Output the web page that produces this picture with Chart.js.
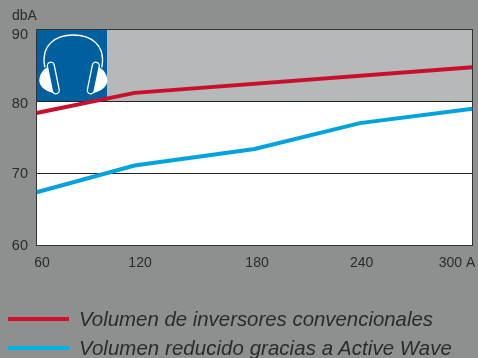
<!DOCTYPE html>
<html lang="es">
<head>
<meta charset="utf-8">
<title>Volumen dbA</title>
<script src="https://cdn.jsdelivr.net/npm/chart.js@4/dist/chart.umd.min.js"></script>
<style>
  html, body { margin: 0; padding: 0; background: #8e908f; }
  #wrap { position: relative; width: 478px; height: 358px; overflow: hidden; }
  #volumeChart { position: absolute; left: 0; top: 0; }
  .legend-row { position: absolute; left: 8px; height: 24px; display: flex; align-items: center; }
  .legend-row i { display: block; width: 61px; height: 4px; margin-right: 10px; }
  .legend-row span { font: italic 20.4px "Liberation Sans", Arial, sans-serif; color: #2b2b2b; white-space: nowrap; }
</style>
</head>
<body>
<div id="wrap">
  <canvas id="volumeChart" width="478" height="358"></canvas>
  <div class="legend-row" style="top:307px"><i style="background:#d2102c"></i><span id="nameA"></span></div>
  <div class="legend-row" style="top:336px"><i style="background:#00b2e6"></i><span id="nameB" style="letter-spacing:.08px"></span></div>
</div>
<script>
// current (A) against noise level (dbA)
const conventionalPts = [60, 114, 300];
const conventionalVals = [78.4, 81.2, 84.75];
const reducedPts = [60, 114, 180, 238, 300];
const reducedVals = [67.4, 71.1, 73.4, 77.0, 79.0];

const xTickLabels = ['60', '120', '180', '240', '300 A'];
const xTickSpots = [63, 117, 181.4, 239, 291.5];
const yTickLabels = ['60', '70', '80', '90'];
const yTickSpots = [60, 70, 79.6, 89.3];
const conventionalName = 'Volumen de inversores convencionales';
const reducedName = 'Volumen reducido gracias a Active Wave';

document.getElementById('nameA').textContent = conventionalName;
document.getElementById('nameB').textContent = reducedName;

const toSeries = (xs, ys) => xs.map((x, i) => ({ x, y: ys[i] }));

// grey band above 80 dbA, blue square with the headphones in its corner
const backdrop = {
  id: 'backdrop',
  beforeDatasetsDraw(chart) {
    const { ctx, chartArea: a, scales: { y } } = chart;
    const y80 = y.getPixelForValue(80);
    ctx.save();
    ctx.fillStyle = '#ffffff';
    ctx.fillRect(a.left, a.top, a.width, a.height);
    ctx.fillStyle = '#b5b9ba';
    ctx.fillRect(a.left, a.top, a.width, y80 - a.top);
    ctx.fillStyle = '#00609f';
    ctx.fillRect(a.left, a.top, 70.5, y80 - a.top);

    ctx.strokeStyle = '#222';
    ctx.lineWidth = 1;
    [70, 80].forEach(v => {
      const py = Math.floor(y.getPixelForValue(v)) + 0.5;
      ctx.beginPath();
      ctx.moveTo(a.left, py);
      ctx.lineTo(a.right, py);
      ctx.stroke();
    });

    drawHeadphones(ctx, a.left, a.top);

    ctx.strokeStyle = '#333';
    ctx.lineWidth = 1;
    ctx.strokeRect(a.left, a.top, a.width, a.height);
    ctx.restore();
  }
};

function drawHeadphones(ctx, ox, oy) {
  const cx = ox + 36.8;
  ctx.save();
  ctx.strokeStyle = '#fff';
  ctx.fillStyle = '#fff';
  ctx.lineWidth = 1.3;

  // headband
  ctx.beginPath();
  ctx.moveTo(cx - 28.5, oy + 38);
  ctx.bezierCurveTo(cx - 33, oy + 15, cx - 17, oy + 5.5, cx, oy + 5.5);
  ctx.bezierCurveTo(cx + 17, oy + 5.5, cx + 33, oy + 15, cx + 28.5, oy + 38);
  ctx.stroke();

  // ear cups, mirrored
  [-1, 1].forEach(side => {
    ctx.save();
    ctx.translate(cx, oy);
    ctx.scale(side, 1);
    ctx.beginPath();
    ctx.moveTo(26, 38);
    ctx.bezierCurveTo(31, 40, 34, 46, 34, 51);
    ctx.bezierCurveTo(34, 58, 26, 63, 17, 64);
    ctx.closePath();
    ctx.fill();

    ctx.translate(20, 48.5);
    ctx.rotate(0.2);
    ctx.fillStyle = '#00609f';
    ctx.beginPath();
    ctx.roundRect(-3.5, -16, 7, 32, 3.5);
    ctx.fill();
    ctx.stroke();
    ctx.restore();
  });
  ctx.restore();
}

new Chart(document.getElementById('volumeChart'), {
  type: 'scatter',
  data: {
    datasets: [
      {
        data: toSeries(conventionalPts, conventionalVals),
        borderColor: '#c90f2c',
        borderWidth: 4,
        showLine: true,
        pointRadius: 0
      },
      {
        data: toSeries(reducedPts, reducedVals),
        borderColor: '#00a3de',
        borderWidth: 4,
        showLine: true,
        pointRadius: 0
      }
    ]
  },
  options: {
    responsive: false,
    animation: false,
    layout: { padding: { top: 29.5, left: 0, right: 5.5, bottom: 0 } },
    plugins: { legend: { display: false }, tooltip: { enabled: false } },
    scales: {
      x: {
        type: 'linear',
        min: 60,
        max: 300,
        afterBuildTicks: axis => { axis.ticks = xTickSpots.map(value => ({ value })); },
        afterFit: axis => {
          axis.height = 112.5;
          axis.paddingLeft = 0;
          axis.paddingRight = 0;
        },
        grid: { display: false, drawTicks: false },
        border: { display: false },
        ticks: {
          color: '#2b2b2b',
          font: { family: '"Liberation Sans", Arial, sans-serif', size: 14 },
          padding: 9,
          maxRotation: 0,
          autoSkip: false,
          callback: (v, i) => xTickLabels[i]
        }
      },
      y: {
        min: 60,
        max: 90,
        afterBuildTicks: axis => { axis.ticks = yTickSpots.map(value => ({ value })); },
        afterFit: axis => {
          axis.width = 36.5;
          axis.paddingTop = 0;
          axis.paddingBottom = 0;
        },
        grid: { display: false, drawTicks: false },
        border: { display: false },
        ticks: {
          color: '#2b2b2b',
          font: { family: '"Liberation Sans", Arial, sans-serif', size: 14.5 },
          padding: 8.5,
          autoSkip: false,
          callback: (v, i) => yTickLabels[i]
        }
      }
    }
  },
  plugins: [backdrop, {
    id: 'unitLabel',
    afterDraw(chart) {
      const { ctx } = chart;
      ctx.save();
      ctx.fillStyle = '#2b2b2b';
      ctx.font = '14px "Liberation Sans", Arial, sans-serif';
      ctx.textBaseline = 'alphabetic';
      ctx.fillText('dbA', 12, 20);
      ctx.restore();
    }
  }]
});
</script>
</body>
</html>
